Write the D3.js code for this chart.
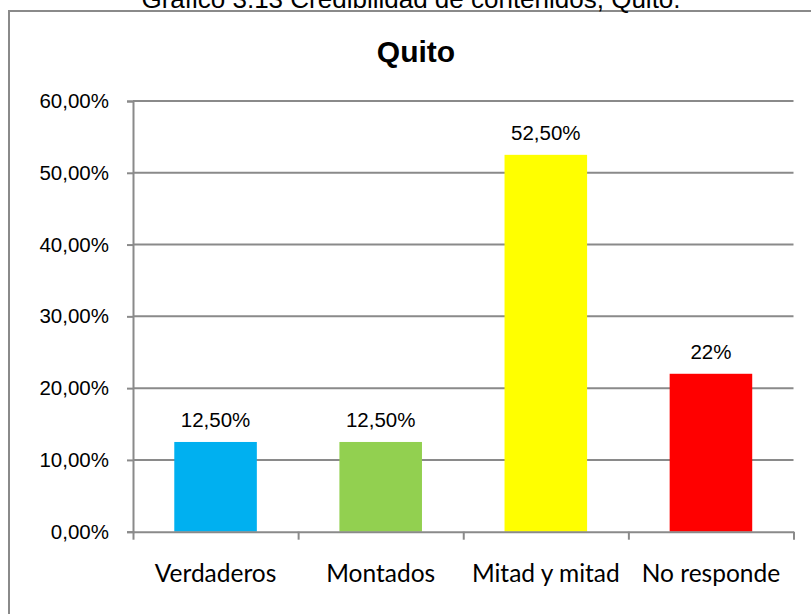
<!DOCTYPE html>
<html>
<head>
<meta charset="utf-8">
<script src="https://cdn.jsdelivr.net/npm/d3@7"></script>
<style>
  body { margin: 0; background: #fff; }
  svg { display: block; }
</style>
</head>
<body>
<div id="chart"></div>
<script>
// chart data
const categories = ["Verdaderos", "Montados", "Mitad y mitad", "No responde"];
const values = [12.5, 12.5, 52.5, 22];
const valueLabels = ["12,50%", "12,50%", "52,50%", "22%"];
const barColors = ["#00B0F0", "#92D050", "#FFFF00", "#FF0000"];
const yTicks = [0, 10, 20, 30, 40, 50, 60];
const captionText = "Gráfico 3.13 Credibilidad de contenidos, Quito.";
const titleText = "Quito";

const svgWidth = 811, svgHeight = 614;
const margin = {top: 101, right: 17.5, bottom: 82.3, left: 133};
const width = svgWidth - margin.left - margin.right;
const height = svgHeight - margin.top - margin.bottom;
const gridColor = "#8a8a8a";

const svg = d3.select("#chart").append("svg")
    .attr("width", svgWidth)
    .attr("height", svgHeight);

// outer frame (runs past the right and bottom edges)
svg.append("rect")
    .attr("x", 9).attr("y", 11)
    .attr("width", 830).attr("height", 640)
    .attr("fill", "none")
    .attr("stroke", gridColor)
    .attr("stroke-width", 2);

// caption above the frame, cut by the top edge as in the source
svg.append("text")
    .attr("x", 411).attr("y", 8)
    .attr("text-anchor", "middle")
    .attr("font-family", "'Liberation Sans', Arial, sans-serif")
    .attr("font-size", 26)
    .attr("fill", "#000")
    .text(captionText);

svg.append("text")
    .attr("x", 416).attr("y", 62)
    .attr("text-anchor", "middle")
    .attr("font-family", "'Liberation Sans', Arial, sans-serif")
    .attr("font-weight", "bold")
    .attr("font-size", 30)
    .attr("fill", "#000")
    .text(titleText);

const chart = svg.append("g")
    .attr("transform", "translate(" + margin.left + "," + margin.top + ")");

const yScale = d3.scaleLinear().domain([0, 60]).range([height, 0]);
const xScale = d3.scaleBand()
    .domain(categories)
    .range([0, width])
    .paddingInner(0.5)
    .paddingOuter(0.25);

// gridlines
chart.append("g")
    .selectAll("line")
    .data(yTicks.slice(1))
    .enter().append("line")
    .attr("x1", 0).attr("x2", width)
    .attr("y1", d => yScale(d)).attr("y2", d => yScale(d))
    .attr("stroke", gridColor)
    .attr("stroke-width", 2);

// y axis
const yAxis = d3.axisLeft(yScale)
    .tickValues(yTicks)
    .tickSize(6)
    .tickPadding(18)
    .tickFormat(d => d.toFixed(2).replace(".", ",") + "%");

const yG = chart.append("g").call(yAxis);
yG.select(".domain").attr("stroke", gridColor).attr("stroke-width", 2);
yG.selectAll(".tick line").attr("stroke", gridColor).attr("stroke-width", 2);
yG.selectAll(".tick text")
    .attr("font-family", "'Liberation Sans', Arial, sans-serif")
    .attr("font-size", 20.5)
    .attr("fill", "#000");

// bars
chart.selectAll(".bar")
    .data(values)
    .enter().append("rect")
    .attr("class", "bar")
    .attr("x", (d, i) => xScale(categories[i]))
    .attr("y", d => yScale(d))
    .attr("width", xScale.bandwidth())
    .attr("height", d => height - yScale(d))
    .attr("fill", (d, i) => barColors[i]);

// x axis with ticks at category boundaries
const xEdges = d3.scaleLinear().domain([0, categories.length]).range([0, width]);
const xAxis = d3.axisBottom(xEdges)
    .tickValues(d3.range(0, categories.length + 1))
    .tickSize(8)
    .tickSizeOuter(0)
    .tickFormat("");
const xG = chart.append("g")
    .attr("transform", "translate(0," + height + ")")
    .call(xAxis);
xG.select(".domain").attr("stroke", gridColor).attr("stroke-width", 2);
xG.selectAll(".tick line").attr("stroke", gridColor).attr("stroke-width", 2);

// category labels
chart.append("g")
    .selectAll("text")
    .data(categories)
    .enter().append("text")
    .attr("x", d => xScale(d) + xScale.bandwidth() / 2)
    .attr("y", height + 50.6)
    .attr("text-anchor", "middle")
    .attr("font-family", "Lato, 'Open Sans', sans-serif")
    .attr("font-size", 24.5)
    .attr("fill", "#000")
    .text(d => d);

// value labels
chart.append("g")
    .selectAll("text")
    .data(values)
    .enter().append("text")
    .attr("x", (d, i) => xScale(categories[i]) + xScale.bandwidth() / 2)
    .attr("y", d => yScale(d) - 15)
    .attr("text-anchor", "middle")
    .attr("font-family", "'Liberation Sans', Arial, sans-serif")
    .attr("font-size", 20.5)
    .attr("fill", "#000")
    .text((d, i) => valueLabels[i]);
</script>
</body>
</html>
